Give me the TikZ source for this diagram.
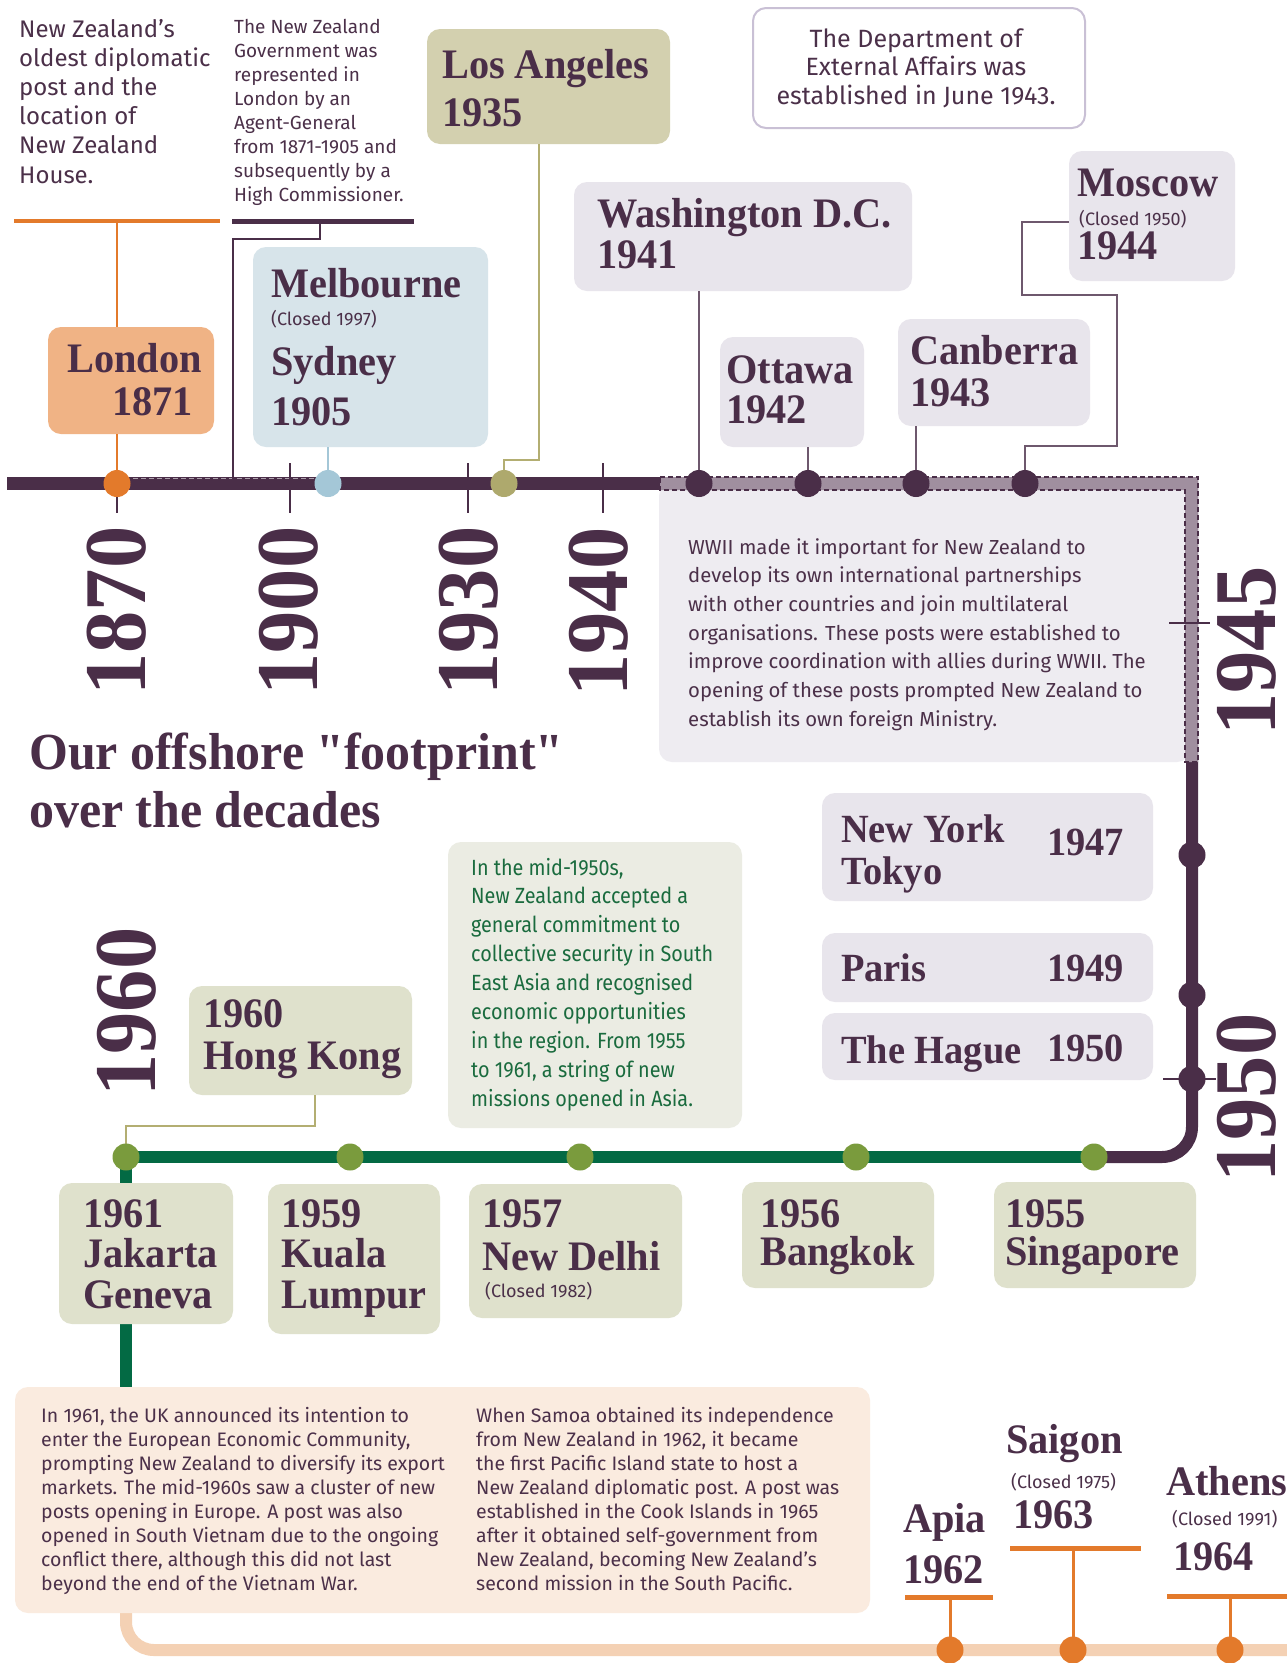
\documentclass[tikz,border=0pt]{standalone}
\usepackage{fontspec}
\setmainfont{Fira Sans}
\newfontfamily\hdfont{Liberation Serif}[FakeStretch=0.96]
\newfontfamily\condfont{Fira Sans}[FakeStretch=0.9]
\definecolor{plum}{HTML}{4A2E48}
\definecolor{ink}{HTML}{4B3049}
\definecolor{orng}{HTML}{E37A2B}
\definecolor{lonfill}{HTML}{F0B385}
\definecolor{bluefill}{HTML}{D7E4EA}
\definecolor{bluedot}{HTML}{A4C7D7}
\definecolor{khfill}{HTML}{D3D0AF}
\definecolor{khdot}{HTML}{AEA96D}
\definecolor{khline}{HTML}{B3AE72}
\definecolor{grayfill}{HTML}{E8E5EC}
\definecolor{wwfill}{HTML}{EEECF1}
\definecolor{deptline}{HTML}{C9C0D5}
\definecolor{bandc}{HTML}{A08F9F}
\definecolor{grnline}{HTML}{036A44}
\definecolor{grndot}{HTML}{7A9B3D}
\definecolor{sage}{HTML}{DFE1CC}
\definecolor{grnbox}{HTML}{EBECE3}
\definecolor{grntext}{HTML}{1A6B3E}
\definecolor{peachfill}{HTML}{FAEBDF}
\definecolor{peachline}{HTML}{F4D1B4}
\newcommand\fs[1]{\fontsize{#1}{#1}\selectfont}
\newcommand\txtlines[6]{\foreach \tl [count=\i from 0] in {#6}{\node[#1] (#2-\i) at (#3,{#4+\i*#5}) {\tl};}}
\tikzset{
 boxs/.style={rectangle, rounded corners=13pt, inner sep=0pt, outer sep=0pt, anchor=north west, draw=none},
 hd/.style={anchor=base west, inner sep=0pt, text=plum, font=\hdfont\bfseries\fs{42}},
 hdm/.style={anchor=base west, inner sep=0pt, text=plum, font=\hdfont\bfseries\fs{40}},
 yr/.style={inner sep=0pt, text=plum, font=\hdfont\bfseries\fs{88}, rotate=90},
 small/.style={anchor=base west, inner sep=0pt, text=ink, font=\fs{18}},
 body/.style={anchor=base west, inner sep=0pt, text=ink},
 dot/.style={circle, inner sep=0pt, minimum size=27pt, draw=none},
 conn/.style={line width=2.4pt},
 obar/.style={line width=5pt, orng},
}
\begin{document}
\begin{tikzpicture}[x=1pt,y=-1pt]
\useasboundingbox (0,0) rectangle (1287,1663);
\clip (0,0) rectangle (1287,1663);
\fill[white] (0,0) rectangle (1287,1663);

% WWII box (under the line)
\node[boxs, fill=wwfill, minimum width=531pt, minimum height=279pt] (wwii) at (659,483) {};

% main purple line
\draw[plum, line width=13pt] (7,483.5) -- (1192,483.5);
\draw[plum, line width=12pt, rounded corners=30pt] (1192,477) -- (1192,1157) -- (1094,1157);
\draw[white, opacity=0.55, line width=1.2pt, dash pattern=on 5pt off 3pt] (133,478.5) -- (314,478.5);
% WWII band
\draw[fill=bandc, draw=plum, line width=1.4pt, dash pattern=on 5pt off 3pt]
  (660,477) -- (1198,477) -- (1198,762) -- (1185,762) -- (1185,490) -- (660,490) -- cycle;

% green and peach lines
\draw[grnline, line width=12pt] (1094,1157) -- (126,1157) -- (126,1398);
\draw[peachline, line width=12pt, rounded corners=28pt] (126,1600) -- (126,1650) -- (1300,1650);

% boxes
\node[boxs, fill=lonfill, minimum width=166pt, minimum height=107pt] (london) at (48,327) {};
\node[boxs, fill=bluefill, minimum width=235pt, minimum height=200pt] (melb) at (253,247) {};
\node[boxs, fill=khfill, minimum width=243pt, minimum height=115pt] (la) at (427,29) {};
\node[boxs, fill=white, draw=deptline, line width=2pt, minimum width=332pt, minimum height=120pt] (dept) at (753,8) {};
\node[boxs, fill=grayfill, minimum width=338pt, minimum height=109pt] (wash) at (574,182) {};
\node[boxs, fill=grayfill, minimum width=144pt, minimum height=110pt] (ott) at (720,337) {};
\node[boxs, fill=grayfill, minimum width=192pt, minimum height=107pt] (canb) at (898,319) {};
\node[boxs, fill=grayfill, minimum width=166pt, minimum height=130pt] (mosc) at (1069,151) {};
\node[boxs, fill=grayfill, minimum width=331pt, minimum height=108pt] (ny) at (822,793) {};
\node[boxs, fill=grayfill, minimum width=331pt, minimum height=69pt] (paris) at (822,933) {};
\node[boxs, fill=grayfill, minimum width=331pt, minimum height=67pt] (hague) at (822,1013) {};
\node[boxs, fill=grnbox, minimum width=294pt, minimum height=286pt] (gbox) at (448,842) {};
\node[boxs, fill=sage, minimum width=223pt, minimum height=109pt] (hk) at (189,986) {};
\node[boxs, fill=sage, minimum width=174pt, minimum height=141pt] (jak) at (59,1183) {};
\node[boxs, fill=sage, minimum width=172pt, minimum height=150pt] (kl) at (268,1184) {};
\node[boxs, fill=sage, minimum width=213pt, minimum height=134pt] (nd) at (469,1184) {};
\node[boxs, fill=sage, minimum width=192pt, minimum height=106pt] (bkk) at (742,1182) {};
\node[boxs, fill=sage, minimum width=202pt, minimum height=106pt] (sgp) at (994,1182) {};
\node[boxs, fill=peachfill, minimum width=855pt, minimum height=226pt] (pbox) at (15,1387) {};

% dots (positions)
\coordinate (odotc) at (117,483.5);
\coordinate (bdotc) at (328,483.5);
\coordinate (kdotc) at (504,483.5);
\coordinate (pd1c) at (699,483.5);
\coordinate (pd2c) at (808,483.5);
\coordinate (pd3c) at (916,483.5);
\coordinate (pd4c) at (1025,483.5);

% ticks
\foreach \tx [count=\k] in {117,290,468,603} {\coordinate (tk\k) at (\tx,463); \draw[plum, line width=2.5pt] (tk\k) -- ++(0,50);}
\coordinate (t45) at (1169,623);
\coordinate (t50) at (1163,1079);
\draw[plum, line width=2pt] (t45) -- ++(41,0);
\draw[plum, line width=2pt] (t50) -- ++(53,0);

% top bars and connectors
\coordinate (ob1) at (14,221); \coordinate (ob2) at (220,221);
\coordinate (pb1) at (232,221); \coordinate (pb2) at (414,221);
\draw[orng, line width=4pt] (ob1) -- (ob2);
\draw[plum, line width=5pt] (pb1) -- (pb2);
\coordinate (oc) at (117,221);
\draw[conn, orng] (oc) -- (london.north -| oc);
\draw[conn, orng] (london.south -| odotc) -- (odotc);
\coordinate (pc1) at (320,221); \coordinate (pc2) at (320,239); \coordinate (pc3) at (233,239);
\draw[conn, plum] (pc1) -- (pc2) -- (pc3) -- (233,483);
\draw[conn, bluedot] (melb.south -| bdotc) -- (bdotc);
\coordinate (la1) at (539,460);
\draw[conn, khline] (la.south -| la1) -- (la1) -| (kdotc);
\draw[conn, plum!80] (wash.south -| pd1c) -- (pd1c);
\draw[conn, plum!80] (ott.south -| pd2c) -- (pd2c);
\draw[conn, plum!80] (canb.south -| pd3c) -- (pd3c);
\coordinate (m1) at (1022,222); \coordinate (m2) at (1022,295); \coordinate (m3) at (1117,295);
\coordinate (m4) at (1117,446); \coordinate (m5) at (1025,446);
\draw[conn, plum!80] (mosc.west |- m1) -- (m1) -- (m2) -- (m3) -- (m4) -- (m5) -- (pd4c);
\coordinate (h1) at (315,1126);
\draw[conn, khline] (hk.south -| h1) -- (h1) -| (126,1157);

% bottom orange bars
\coordinate (ab1) at (905,1597); \coordinate (ab2) at (993,1597);
\coordinate (sb1) at (1010,1548); \coordinate (sb2) at (1141,1548);
\coordinate (tb1) at (1167,1596); \coordinate (tb2) at (1295,1596);
\draw[obar] (ab1) -- (ab2);
\draw[obar] (sb1) -- (sb2);
\draw[obar] (tb1) -- (tb2);
\draw[conn, orng, line width=3pt] (950,1597) -- (950,1650);
\draw[conn, orng, line width=3pt] (1073,1548) -- (1073,1650);
\draw[conn, orng, line width=3pt] (1230,1596) -- (1230,1650);

% dots
\node[dot, fill=orng] (odot) at (odotc) {};
\node[dot, fill=bluedot] (bdot) at (bdotc) {};
\node[dot, fill=khdot] (kdot) at (kdotc) {};
\node[dot, fill=plum] (pd1) at (pd1c) {};
\node[dot, fill=plum] (pd2) at (pd2c) {};
\node[dot, fill=plum] (pd3) at (pd3c) {};
\node[dot, fill=plum] (pd4) at (pd4c) {};
\node[dot, fill=plum] (vd1) at (1192,855) {};
\node[dot, fill=plum] (vd2) at (1192,995) {};
\node[dot, fill=plum] (vd3) at (1192,1079) {};
\node[dot, fill=grndot] (gd1) at (126,1157) {};
\node[dot, fill=grndot] (gd2) at (350,1157) {};
\node[dot, fill=grndot] (gd3) at (580,1157) {};
\node[dot, fill=grndot] (gd4) at (856,1157) {};
\node[dot, fill=grndot] (gd5) at (1094,1157) {};
\node[dot, fill=orng] (ad1) at (950,1650) {};
\node[dot, fill=orng] (ad2) at (1073,1650) {};
\node[dot, fill=orng] (ad3) at (1230,1650) {};

% year labels
\node[yr] (y1870) at (117,611) {1870};
\node[yr] (y1900) at (289,611) {1900};
\node[yr] (y1930) at (469,611) {1930};
\node[yr] (y1940) at (599,612) {1940};
\node[yr] (y1945) at (1247,651) {1945};
\node[yr] (y1950) at (1247,1098) {1950};
\node[yr] (y1960) at (127,1012) {1960};

% title
\node[anchor=base west, inner sep=0pt, text=plum, font=\hdfont\bfseries\fs{52}] (title1) at (29,769) {Our offshore "footprint"};
\node[anchor=base west, inner sep=0pt, text=plum, font=\hdfont\bfseries\fs{52}] (title2) at (29,827) {over the decades};

% headings in boxes
\node[hd] (tLon) at (67,372) {London};
\node[hd] (tLon2) at (112,415) {1871};
\node[hd] (tMel) at (271,297) {Melbourne};
\node[small] (tMelc) at (271,325) {(Closed 1997)};
\node[hd] (tSyd) at (271,375) {Sydney};
\node[hd] (tSyd2) at (271,425) {1905};
\node[hd] (tLA) at (442,78) {Los Angeles};
\node[hd] (tLA2) at (442,126) {1935};
\node[hd] (tWa) at (597,227) {Washington D.C.};
\node[hd] (tWa2) at (597,268) {1941};
\node[hd] (tOt) at (726,383) {Ottawa};
\node[hd] (tOt2) at (726,423) {1942};
\node[hd] (tCa) at (910,364) {Canberra};
\node[hd] (tCa2) at (910,406) {1943};
\node[hd] (tMo) at (1077,196) {Moscow};
\node[small] (tMoc) at (1079,225) {(Closed 1950)};
\node[hd] (tMo2) at (1077,259) {1944};
\node[hdm] (tNY) at (841,842) {New York};
\node[hdm] (tTo) at (841,884) {Tokyo};
\node[hdm] (tNY2) at (1047,855) {1947};
\node[hdm] (tPa) at (841,981) {Paris};
\node[hdm] (tPa2) at (1047,981) {1949};
\node[hdm] (tHa) at (841,1063) {The Hague};
\node[hdm] (tHa2) at (1047,1061) {1950};
\node[hd] (tHK1) at (203,1027) {1960};
\node[hd] (tHK2) at (203,1069) {Hong Kong};
\node[hd] (tJa1) at (83,1227) {1961};
\node[hd] (tJa2) at (83,1267) {Jakarta};
\node[hd] (tJa3) at (83,1308) {Geneva};
\node[hd] (tKL1) at (281,1227) {1959};
\node[hd] (tKL2) at (281,1267) {Kuala};
\node[hd] (tKL3) at (281,1308) {Lumpur};
\node[hd] (tND1) at (482,1227) {1957};
\node[hd] (tND2) at (482,1270) {New Delhi};
\node[small] (tNDc) at (485,1297) {(Closed 1982)};
\node[hd] (tBk1) at (760,1227) {1956};
\node[hd] (tBk2) at (760,1265) {Bangkok};
\node[hd] (tSg1) at (1005,1227) {1955};
\node[hd] (tSg2) at (1005,1265) {Singapore};
\node[hd] (tAp1) at (903,1532) {Apia};
\node[hd] (tAp2) at (903,1583) {1962};
\node[hd] (tSa1) at (1006,1453) {Saigon};
\node[small] (tSac) at (1011,1488) {(Closed 1975)};
\node[hd] (tSa2) at (1013,1528) {1963};
\node[hd] (tAt1) at (1166,1495) {Athens};
\node[small] (tAtc) at (1172,1525) {(Closed 1991)};
\node[hd] (tAt2) at (1173,1570) {1964};

% body texts
\txtlines{body, font=\fs{24}}{txa}{19}{37}{29.2}{{New Zealand’s},{oldest diplomatic},{post and the},{location of},{New Zealand},{House.}}
\txtlines{body, font=\fs{19}}{txb}{234}{33}{24}{{The New Zealand},{Government was},{represented in},{London by an},{Agent-General},{from 1871-1905 and},{subsequently by a},{High Commissioner.}}
\txtlines{body, anchor=base, font=\fs{25}}{txc}{916}{47}{28.7}{{The Department of},{External Affairs was},{established in June 1943.}}
\txtlines{body, font=\fs{20.3}}{txd}{688}{554}{28.7}{{WWII made it important for New Zealand to},{develop its own international partnerships},{with other countries and join multilateral},{organisations. These posts were established to},{improve coordination with allies during WWII. The},{opening of these posts prompted New Zealand to},{establish its own foreign Ministry.}}
\txtlines{body, text=grntext, font=\condfont\fs{22}}{txe}{471}{875}{28.9}{{In the mid-1950s,},{New Zealand accepted a},{general commitment to},{collective security in South},{East Asia and recognised},{economic opportunities},{in the region. From 1955},{to 1961, a string of new},{missions opened in Asia.}}
\txtlines{body, font=\fs{19.5}}{txf}{41}{1422}{24}{{In 1961, the UK announced its intention to},{enter the European Economic Community,},{prompting New Zealand to diversify its export},{markets. The mid-1960s saw a cluster of new},{posts opening in Europe. A post was also},{opened in South Vietnam due to the ongoing},{conflict there, although this did not last},{beyond the end of the Vietnam War.}}
\txtlines{body, font=\fs{19.5}}{txg}{476}{1422}{24}{{When Samoa obtained its independence},{from New Zealand in 1962, it became},{the first Pacific Island state to host a},{New Zealand diplomatic post. A post was},{established in the Cook Islands in 1965},{after it obtained self-government from},{New Zealand, becoming New Zealand’s},{second mission in the South Pacific.}}
\end{tikzpicture}
\end{document}
